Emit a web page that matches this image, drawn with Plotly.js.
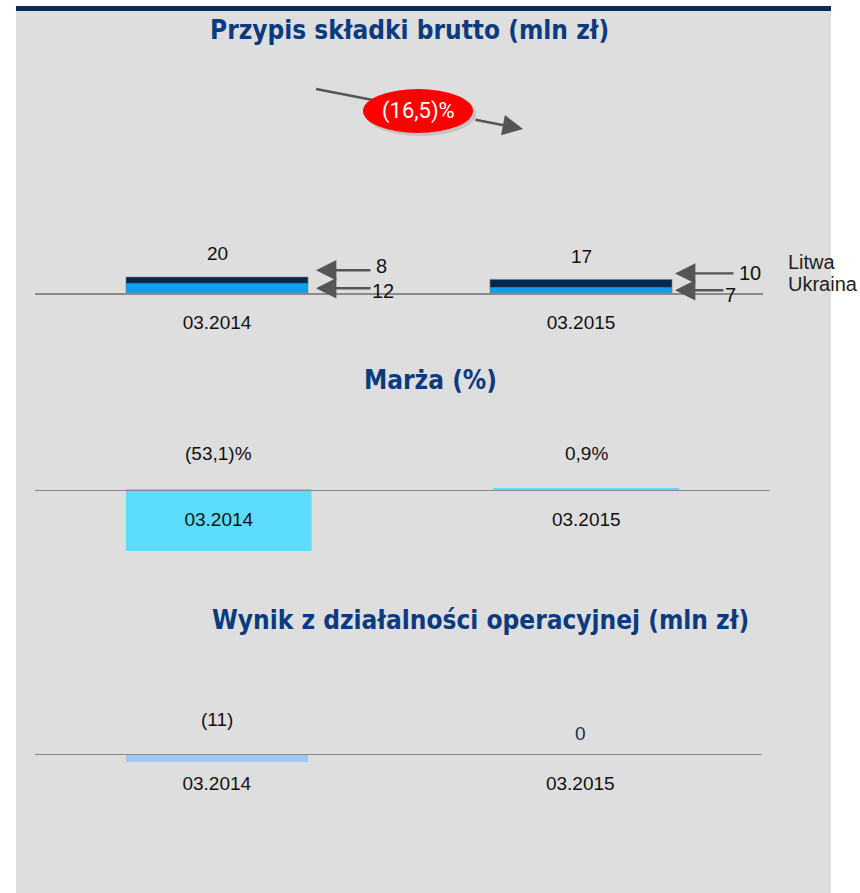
<!DOCTYPE html>
<html>
<head>
<meta charset="utf-8">
<script src="https://cdn.plot.ly/plotly-3.0.1.min.js"></script>
<style>html,body{margin:0;padding:0;background:#fff;}#chart{width:860px;height:893px;}</style>
</head>
<body>
<div id="chart"></div>
<script>
// ---- data ----
const categories = ['03.2014', '03.2015'];
const seriesNames = ['Litwa', 'Ukraina'];
const litwa = [8, 10];
const ukraina = [12, 7];
const totals = [20, 17];
const premiumChange = -16.5;
const margin = [-53.1, 0.9];
const operating = [-11, 0];
const titles = ['Przypis składki brutto (mln zł)', 'Marża (%)', 'Wynik z działalności operacyjnej (mln zł)'];

// ---- helpers ----
const W = 860, H = 893;
const px = x => x / W;
const py = y => 1 - y / H;
function fmt(v, dec, suffix) {
  const s = Math.abs(v).toFixed(dec).replace('.', ',');
  return (v < 0 ? '(' + s + ')' : s) + (suffix || '');
}
function zeroPos(dom, rng) {
  return dom[0] + (0 - rng[0]) / (rng[1] - rng[0]) * (dom[1] - dom[0]);
}

const FONT = 'Liberation Sans, Arial, sans-serif';
const TFONT = 'DejaVu Sans Condensed, DejaVu Sans, sans-serif';
const navy = '#0b3a7e';
const grey = '#8a8a8a';

// subplot geometry
const d1 = [py(293), py(93)], r1 = [0, 250];
const d2 = [py(560), py(400)], r2 = [-62, 79.6];
const d3 = [py(800), py(660)], r3 = [-63.3, 129.3];
const barW = 0.5;

const traces = [
  {type: 'bar', x: categories, y: ukraina, name: seriesNames[1], xaxis: 'x', yaxis: 'y', width: barW,
   marker: {color: '#0aa2f0', line: {color: 'rgba(120,120,120,0.6)', width: 1}}, hoverinfo: 'skip'},
  {type: 'bar', x: categories, y: litwa, name: seriesNames[0], xaxis: 'x', yaxis: 'y', width: barW,
   marker: {color: '#06284f', line: {color: 'rgba(120,120,120,0.6)', width: 1}}, hoverinfo: 'skip'},
  {type: 'bar', x: categories, y: margin, xaxis: 'x2', yaxis: 'y2', width: 0.5,
   marker: {color: '#5cdcff', line: {color: '#5cdcff', width: 2}}, hoverinfo: 'skip'},
  {type: 'bar', x: categories, y: operating, xaxis: 'x3', yaxis: 'y3', width: barW,
   marker: {color: '#9ec8f8'}, hoverinfo: 'skip'}
];

function xax(dom, pos) {
  return {domain: dom, anchor: 'free', position: pos, type: 'category', range: [-0.5, 1.5],
    showline: true, linecolor: grey, linewidth: 1.5, showgrid: false, zeroline: false,
    ticks: 'outside', ticklen: 12, tickcolor: 'rgba(0,0,0,0)',
    tickfont: {family: FONT, size: 19, color: '#111'}, fixedrange: true};
}
function yax(dom, rng) {
  return {domain: dom, range: rng, visible: false, showgrid: false, zeroline: false, fixedrange: true};
}

const annotations = [];
const shapes = [];

// panel
shapes.push({type: 'rect', xref: 'paper', yref: 'paper', x0: px(16), x1: px(831), y0: 0, y1: py(8),
  fillcolor: '#dedede', line: {width: 0}, layer: 'below'});
shapes.push({type: 'rect', xref: 'paper', yref: 'paper', x0: px(16), x1: px(831), y0: py(11), y1: py(6),
  fillcolor: '#0a2a5c', line: {width: 0}, layer: 'below'});

// titles
const titlePos = [[409, 30], [430, 380], [480, 620]];
titles.forEach((t, i) => annotations.push({xref: 'paper', yref: 'paper', x: px(titlePos[i][0]), y: py(titlePos[i][1]),
  text: '<b>' + t + '</b>', showarrow: false, xanchor: 'center', yanchor: 'middle',
  font: {family: TFONT, size: 26, color: navy}}));

// top totals
totals.forEach((v, i) => annotations.push({xref: 'x', yref: 'y', x: i, y: v, yshift: 23, text: fmt(v, 0),
  showarrow: false, font: {family: FONT, size: 19, color: '#111'}}));

// segment arrows + labels
const arrowLen = [[56, 56], [60, 50]];
const tipGap = [8, 3];
categories.forEach((c, i) => {
  const segs = [
    {v: litwa[i], mid: ukraina[i] + litwa[i] / 2, ys: 10, ts: [4, 0]},
    {v: ukraina[i], mid: ukraina[i] / 2, ys: 0, ts: [-3, -5]}
  ];
  segs.forEach((s, k) => {
    const L = arrowLen[i][k];
    annotations.push({xref: 'x', yref: 'y', x: i + barW / 2, y: s.mid, xshift: tipGap[i], yshift: s.ys,
      text: '', showarrow: true, ax: L, ay: 0, arrowhead: 2, arrowsize: 1.7, arrowwidth: 2.4, arrowcolor: '#555'});
    annotations.push({xref: 'x', yref: 'y', x: i + barW / 2, y: s.mid, xshift: tipGap[i] + L + (k === 0 ? 2 : -2), yshift: s.ys + s.ts[i],
      text: fmt(s.v, 0), showarrow: false, xanchor: 'left', yanchor: 'middle', font: {family: FONT, size: 20, color: '#111'}});
  });
});

// legend text
seriesNames.forEach((n, k) => annotations.push({xref: 'paper', yref: 'paper', x: px(786), y: py(262 + 22 * k),
  text: n, showarrow: false, xanchor: 'left', yanchor: 'middle', font: {family: FONT, size: 20, color: '#222'}}));

// trend arrow + ellipse
shapes.push({type: 'line', xref: 'paper', yref: 'paper', x0: px(316), y0: py(89), x1: px(418), y1: py(108.7),
  line: {color: '#555', width: 2.4}, layer: 'above'});
shapes.push({type: 'circle', xref: 'paper', yref: 'paper', x0: px(365), x1: px(476), y0: py(136), y1: py(91),
  fillcolor: 'rgba(0,0,0,0.12)', line: {width: 0}, layer: 'above'});
shapes.push({type: 'circle', xref: 'paper', yref: 'paper', x0: px(363), x1: px(473), y0: py(133), y1: py(89),
  fillcolor: '#ff0000', line: {width: 0}, layer: 'above'});
annotations.push({xref: 'paper', yref: 'paper', x: px(523), y: py(129), text: '', showarrow: true,
  ax: 474 - 523, ay: 119.5 - 129, arrowhead: 2, arrowsize: 1.7, arrowwidth: 2.4, arrowcolor: '#555'});
annotations.push({xref: 'paper', yref: 'paper', x: px(418), y: py(111), text: fmt(premiumChange, 1, '%'),
  showarrow: false, xanchor: 'center', yanchor: 'middle', font: {family: 'Roboto, ' + FONT, size: 22, color: '#fff'}});

// margin labels
margin.forEach((v, i) => annotations.push({xref: 'x2', yref: 'y2', x: i, y: 0, yshift: 36, text: fmt(v, 1, '%'),
  showarrow: false, font: {family: FONT, size: 19, color: '#111'}}));

// operating labels
const opShift = [34, 20];
const opColor = ['#111', '#1b2f55'];
operating.forEach((v, i) => annotations.push({xref: 'x3', yref: 'y3', x: i, y: 0, yshift: opShift[i], text: fmt(v, 0),
  showarrow: false, font: {family: FONT, size: 19, color: opColor[i]}}));

const layout = {
  width: W, height: H, margin: {l: 0, r: 0, t: 0, b: 0},
  paper_bgcolor: '#ffffff', plot_bgcolor: 'rgba(0,0,0,0)',
  showlegend: false, barmode: 'relative', bargap: 0,
  xaxis: xax([px(35), px(763)], zeroPos(d1, r1)),
  yaxis: yax(d1, r1),
  xaxis2: xax([px(35), px(770)], zeroPos(d2, r2)),
  yaxis2: yax(d2, r2),
  xaxis3: xax([px(35), px(762)], zeroPos(d3, r3)),
  yaxis3: yax(d3, r3),
  shapes: shapes, annotations: annotations
};

Plotly.newPlot('chart', traces, layout, {displayModeBar: false, staticPlot: true});
</script>
</body>
</html>
